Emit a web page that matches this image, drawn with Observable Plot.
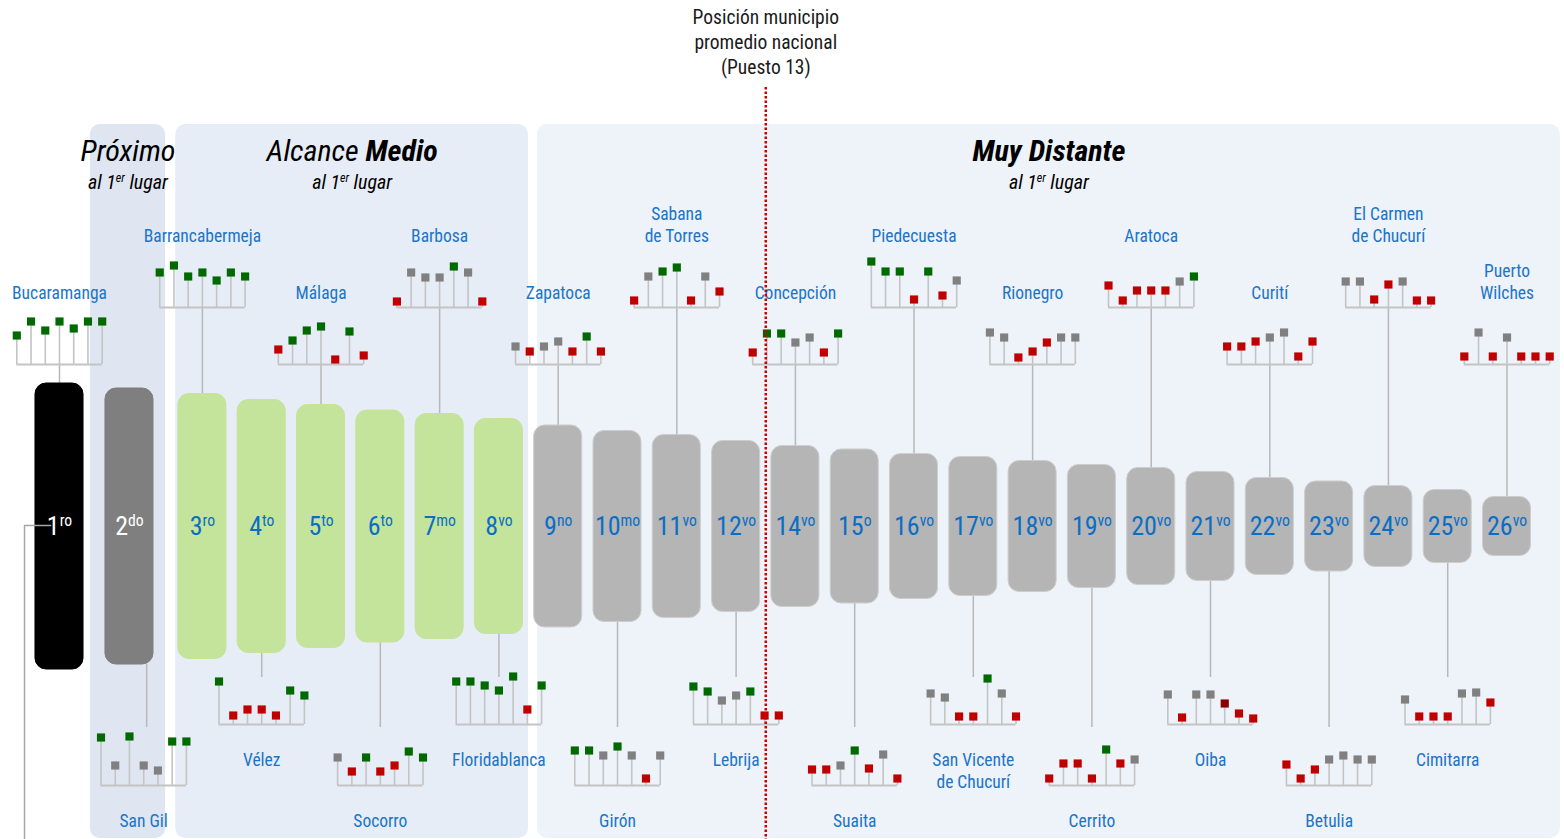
<!DOCTYPE html>
<html><head><meta charset="utf-8">
<script src="https://cdn.jsdelivr.net/npm/d3@7"></script>
<script src="https://cdn.jsdelivr.net/npm/@observablehq/plot@0.6"></script>
<style>
html,body{margin:0;padding:0;background:#fff;overflow:hidden;}
#chart svg{display:block;background:linear-gradient(to right,#e6e6e6 11px,#ffffff 11px);}
</style></head><body><div id="chart"></div>
<script>
// ---------- DATA ----------
const rankNumbers = [1,2,3,4,5,6,7,8,9,10,11,12,14,15,16,17,18,19,20,21,22,23,24,25,26];
const rankSuffixes = ["ro","do","ro","to","to","to","mo","vo","no","mo","vo","vo","vo","o","vo","vo","vo","vo","vo","vo","vo","vo","vo","vo","vo"];
const municipios = ["Bucaramanga","San Gil","Barrancabermeja","Vélez","Málaga","Socorro","Barbosa","Floridablanca",
  "Zapatoca","Girón","Sabana\nde Torres","Lebrija","Concepción","Suaita","Piedecuesta","San Vicente\nde Chucurí",
  "Rionegro","Cerrito","Aratoca","Oiba","Curití","Betulia","El Carmen\nde Chucurí","Cimitarra","Puerto\nWilches"];
const grupoMunicipio = ["Primero","Próximo",
  "Alcance Medio","Alcance Medio","Alcance Medio","Alcance Medio","Alcance Medio","Alcance Medio",
  "Muy Distante","Muy Distante","Muy Distante","Muy Distante","Muy Distante","Muy Distante","Muy Distante","Muy Distante",
  "Muy Distante","Muy Distante","Muy Distante","Muy Distante","Muy Distante","Muy Distante","Muy Distante","Muy Distante","Muy Distante"];
const barHeights = [286,276,265,253,243,232,225,215,202,191,183,171,161,154,145,139,131,123,117,109,97,90,81,73,59];
// 7 indicators per municipality: stem height and status (G = green, X = grey, R = red, D = dark red)
const indicatorValues = [
  [29,43,34,43,36,43,43],[48,20,49,20,15,44,44],[35,42,31,35,27,35,31],[43,9,15,15,9,34,29],
  [15,24,34,38,5,33,9],[28,14,28,14,20,34,28],[6,35,30,30,41,35,6],[43,43,39,34,48,15,39],
  [18,13,18,23,13,28,13],[35,35,30,39,30,7,30],[7,31,36,40,7,31,16],[38,33,24,29,33,9,9],
  [12,31,31,22,27,12,31],[16,16,20,35,17,31,7],[46,36,36,8,36,12,27],[31,27,8,8,46,31,8],
  [32,27,7,13,22,27,27],[7,22,22,7,36,22,26],[22,7,17,17,17,26,31],[30,7,30,30,21,11,6],
  [18,18,23,27,32,8,23],[21,7,16,26,30,26,26],[26,26,8,23,26,7,7],[25,8,8,8,31,32,22],
  [8,32,8,27,8,8,8]];
const indicatorStatus = ["GGGGGGG","GXGXXGG","GGGGGGG","GRRRRGG","RGGGRGR","XRGRRGG","RXXXGXR","GGGGGRG",
  "XRXXRGR","GGXGXRX","RXGGRXR","GGXXGRR","RGGXXRG","RRXGRXR","GGGRGRX","XXRRGXR",
  "XXRRRXX","RRRRGRX","RRRRRXG","XRXXDRR","RRRXXRR","RRRXXXX","XXRRXRR","XRRRXXR","RXRXRRR"];
const grupos = ["Próximo","Alcance Medio","Muy Distante"];
const grupoTitulos = ["Próximo","Alcance **Medio**","**Muy Distante**"];
const grupoSubtitulo = "al 1^{er} lugar";
const anotacion = "Posición municipio\npromedio nacional\n(Puesto 13)";

// ---------- LAYOUT / STYLE ----------
const W = 1564, H = 839, U = 59.3, ORIGIN = 59;
const FONT = "'Liberation Sans Narrow','Arial Narrow','Roboto Condensed',sans-serif";
const BAR_MID = 526, STEP = 0.24;
const statusColor = {G:"#006a00", X:"#808080", R:"#c00000", D:"#8b0000"};
const barFill = {"Primero":"#000000","Próximo":"#7f7f7f","Alcance Medio":"#c4e39b","Muy Distante":"#b5b5b5"};
const barStroke = {"Primero":"#000000","Próximo":"#7f7f7f","Alcance Medio":"#c4e39b","Muy Distante":"#cdcdcd"};
const panelFill = {"Próximo":"#dfe6f1","Alcance Medio":"#e7edf6","Muy Distante":"#eef2f9"};
const groupGap = {"Primero":0,"Próximo":0.18,"Alcance Medio":0.23,"Muy Distante":0};
const clusterNudge = {1: 1}; // San Gil's cluster sits one stem to the right
const blue = "#1a75c9";

const slots = []; let acc = 0;
grupoMunicipio.forEach((g, i) => { if (i > 0 && g !== grupoMunicipio[i-1]) acc += groupGap[g]; slots.push(i + acc); });
const level = i => i % 2 === 0 ? (i % 4 === 0 ? 364 : 307) : (i % 4 === 1 ? 785 : 724);

const rows = municipios.map((name, i) => {
  const above = i % 2 === 0, base = level(i), h = barHeights[i];
  const cx = slots[i] + (clusterNudge[i] || 0) * STEP;
  return {i, name, x: slots[i], cx, h, above, base, group: grupoMunicipio[i],
    y1: BAR_MID - h/2, y2: BAR_MID + h/2,
    c1: above ? BAR_MID - h/2 : BAR_MID + h/2,
    c2: above ? base : base - (i % 4 === 1 ? 58 : 47),
    label: `${rankNumbers[i]}^{${rankSuffixes[i]}}`,
    ly: above ? base - 66 : base + 26};
});
const squares = rows.flatMap(r => indicatorValues[r.i].map((v, j) => ({
  x: r.cx + (j - 3) * STEP, base: r.base, y: r.base - v, color: statusColor[indicatorStatus[r.i][j]]})));

const members = g => rows.filter(r => r.group === g);
const panelPad = {"Próximo":[0.66,0.61],"Alcance Medio":[0.45,0.5],"Muy Distante":[0.35,0.9]};
const panels = grupos.map((g, k) => {
  const m = members(g);
  const x1 = m[0].x - panelPad[g][0], x2 = m[m.length-1].x + panelPad[g][1];
  return {g, x1, x2, xc: (x1 + x2) / 2, title: grupoTitulos[k], fill: panelFill[g]};
});
const redX = (rows[11].x + rows[12].x) / 2;
const leftLink = [{x: rows[0].x - 0.59, y: H}, {x: rows[0].x - 0.59, y: BAR_MID - 1}, {x: rows[0].x - 0.15, y: BAR_MID - 1}];

const chart = Plot.plot({
  width: W, height: H, margin: 0,
  x: {domain: [-ORIGIN/U, (W-ORIGIN)/U], range: [0, W], axis: null},
  y: {domain: [0, H], range: [0, H], axis: null},
  color: {type: "identity"},
  style: {fontFamily: FONT, background: "transparent", overflow: "visible"},
  marks: [
    Plot.rect(panels, {x1: "x1", x2: "x2", y1: 124, y2: H - 1, fill: "fill", rx: 10}),
    Plot.text(panels, {x: "xc", y: 151, text: "title", fontSize: 30, fontStyle: "italic", fill: "#000"}),
    Plot.text(panels, {x: "xc", y: 182, text: () => grupoSubtitulo, fontSize: 20, fontStyle: "italic", fill: "#000"}),
    Plot.ruleX(rows, {x: d => d.cx + (d.i === 1 ? 0.05 : 0), y1: "c1", y2: "c2", stroke: "#b8b8b8", strokeWidth: 1.5}),
    Plot.rect(rows, {x1: d => d.x - 0.405, x2: d => d.x + 0.405, y1: "y1", y2: "y2",
      fill: d => barFill[d.group], stroke: d => barStroke[d.group], strokeWidth: 1, rx: 11}),
    Plot.line(leftLink, {x: "x", y: "y", stroke: "#a6a6a6", strokeWidth: 1.5}),
    Plot.text(rows, {x: "x", y: BAR_MID, text: "label", fontSize: 26,
      fill: d => d.i < 2 ? "#ffffff" : "#0a6ec4"}),
    Plot.ruleY(rows, {y: "base", x1: d => d.cx - 3*STEP, x2: d => d.cx + 3*STEP, stroke: "#c4c4c4", strokeWidth: 2}),
    Plot.ruleX(squares, {x: "x", y1: "base", y2: "y", stroke: "#c4c4c4", strokeWidth: 1.6}),
    Plot.dot(squares, {x: "x", y: "y", symbol: "square", r: 4.6, fill: "color", stroke: null}),
    Plot.text(rows.filter(d => d.above), {x: "cx", y: "ly", text: "name", fontSize: 17.5, fill: blue,
      lineAnchor: "bottom", lineHeight: 1.25}),
    Plot.text(rows.filter(d => !d.above), {x: "cx", y: "ly", text: "name", fontSize: 17.5, fill: blue,
      lineAnchor: "top", lineHeight: 1.25}),
    Plot.ruleX([redX], {x: d => d, y1: 87, y2: H, stroke: "#cc0000", strokeWidth: 2.5, strokeDasharray: "2.5,2"}),
    Plot.text([anotacion], {x: redX, y: 6, text: d => d, fontSize: 19.5, lineAnchor: "top", lineHeight: 1.27, fill: "#1a1a1a"})
  ]
});
document.getElementById("chart").appendChild(chart);

// rich text: ^{sup} and **bold**
function applyMarkup(root) {
  root.querySelectorAll("text").forEach(t => {
    if (t.querySelector("tspan")) return;
    const s = t.textContent;
    if (!/\^\{|\*\*/.test(s)) return;
    const fs = parseFloat(getComputedStyle(t).fontSize);
    const parts = s.split(/(\^\{[^}]*\}|\*\*[^*]+\*\*)/).filter(p => p !== "");
    t.textContent = "";
    let shifted = false;
    parts.forEach(p => {
      const ts = document.createElementNS("http://www.w3.org/2000/svg", "tspan");
      if (p.startsWith("^{")) {
        ts.textContent = p.slice(2, -1);
        ts.setAttribute("font-size", (fs * 0.6).toFixed(1));
        ts.setAttribute("dy", (-fs * 0.34).toFixed(1));
        shifted = true;
      } else {
        if (p.startsWith("**")) { ts.textContent = p.slice(2, -2); ts.setAttribute("font-weight", "bold"); }
        else ts.textContent = p;
        if (shifted) { ts.setAttribute("dy", (fs * 0.34).toFixed(1)); shifted = false; }
      }
      t.appendChild(ts);
    });
  });
}
applyMarkup(chart);
</script></body></html>
